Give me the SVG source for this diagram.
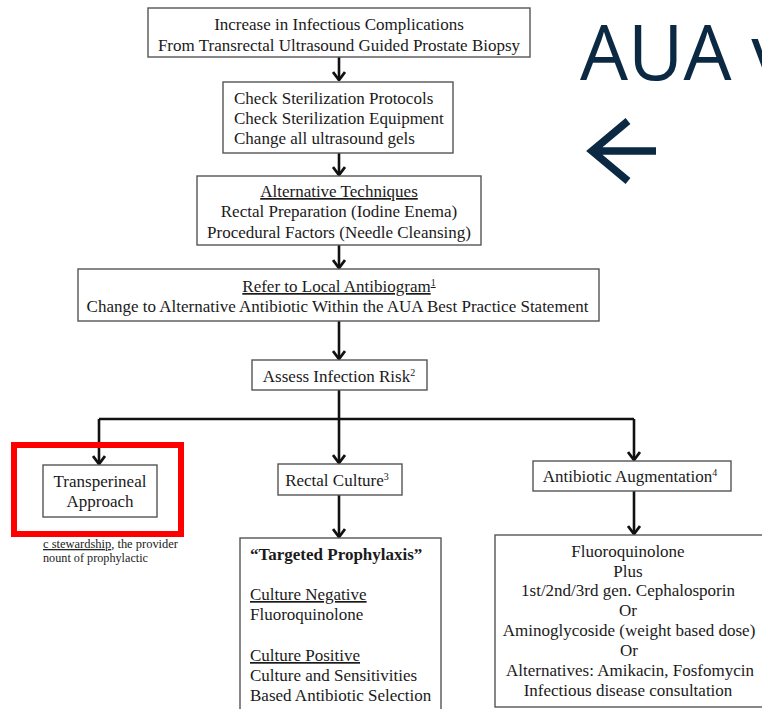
<svg xmlns="http://www.w3.org/2000/svg" width="762" height="709" viewBox="0 0 762 709">
<defs>
<style>
.box{fill:#fff;stroke:#555;stroke-width:1.4}
.t{font-family:"Liberation Serif","Times New Roman",serif;font-size:17px;fill:#1a1a1a}
.c{text-anchor:middle}
.u{text-decoration:underline}
.con{fill:none;stroke:#111;stroke-width:2.6}
.sm{font-family:"Liberation Serif","Times New Roman",serif;font-size:13px;fill:#222}
</style>
<marker id="ah" viewBox="0 0 10 14" refX="9" refY="7" markerWidth="10" markerHeight="14" markerUnits="userSpaceOnUse" orient="auto">
<path d="M1,1 L9,7 L1,13" fill="none" stroke="#111" stroke-width="2.8"/>
</marker>
</defs>
<rect width="762" height="709" fill="#fff"/>

<g id="connectors">
<path class="con" d="M339,57 V80" marker-end="url(#ah)"/>
<path class="con" d="M339,153 V175" marker-end="url(#ah)"/>
<path class="con" d="M339,245 V268" marker-end="url(#ah)"/>
<path class="con" d="M339,321 V359" marker-end="url(#ah)"/>
<path class="con" d="M339,390 V419"/>
<path class="con" d="M99,419 H634"/>
<path class="con" d="M99,419 V464" marker-end="url(#ah)"/>
<path class="con" d="M339,419 V463" marker-end="url(#ah)"/>
<path class="con" d="M634,419 V460" marker-end="url(#ah)"/>
<path class="con" d="M339,495 V537" marker-end="url(#ah)"/>
<path class="con" d="M634,491 V534" marker-end="url(#ah)"/>
</g>

<g id="n1">
<rect class="box" x="148" y="8" width="382" height="49"/>
<text class="t c" x="339" y="30">Increase in Infectious Complications</text>
<text class="t c" x="339" y="51">From Transrectal Ultrasound Guided Prostate Biopsy</text>
</g>

<g id="n2">
<rect class="box" x="223" y="82" width="230" height="71"/>
<text class="t" x="234" y="104">Check Sterilization Protocols</text>
<text class="t" x="234" y="124">Check Sterilization Equipment</text>
<text class="t" x="234" y="144">Change all ultrasound gels</text>
</g>

<g id="n3">
<rect class="box" x="197" y="176" width="284" height="69"/>
<text class="t c u" x="339" y="197">Alternative Techniques</text>
<text class="t c" x="339" y="217">Rectal Preparation (Iodine Enema)</text>
<text class="t c" x="339" y="238">Procedural Factors (Needle Cleansing)</text>
</g>

<g id="n4">
<rect class="box" x="78" y="269" width="521" height="52"/>
<text class="t c" x="339" y="292"><tspan class="u">Refer to Local Antibiogram<tspan font-size="10" dy="-6">1</tspan></tspan></text>
<text class="t c" x="337.5" y="312" font-size="16.7">Change to Alternative Antibiotic Within the AUA Best Practice Statement</text>
</g>

<g id="n5">
<rect class="box" x="252" y="360" width="175" height="30"/>
<text class="t c" x="339" y="382">Assess Infection Risk<tspan font-size="10" dy="-6">2</tspan></text>
</g>

<g id="n6">
<rect class="box" x="43" y="465" width="114" height="52"/>
<text class="t c" x="100" y="487">Transperineal</text>
<text class="t c" x="100" y="507">Approach</text>
</g>

<g id="highlight">
<rect x="14" y="445" width="167" height="89" fill="none" stroke="#ff0000" stroke-width="6"/>
</g>

<g id="fragment">
<text class="sm" x="43" y="548" textLength="135" lengthAdjust="spacingAndGlyphs"><tspan text-decoration="underline">c stewardship</tspan>, the provider</text>
<text class="sm" x="43" y="562" textLength="105" lengthAdjust="spacingAndGlyphs">nount of prophylactic</text>
</g>

<g id="n7">
<rect class="box" x="278" y="464" width="124" height="31"/>
<text class="t c" x="337" y="486">Rectal Culture<tspan font-size="10" dy="-6">3</tspan></text>
</g>

<g id="n8">
<rect class="box" x="240" y="538" width="201" height="175"/>
<text class="t" x="250" y="560" font-weight="bold">“Targeted Prophylaxis”</text>
<text class="t u" x="250" y="600">Culture Negative</text>
<text class="t" x="250" y="620">Fluoroquinolone</text>
<text class="t u" x="250" y="661">Culture Positive</text>
<text class="t" x="250" y="681">Culture and Sensitivities</text>
<text class="t" x="250" y="701">Based Antibiotic Selection</text>
</g>

<g id="n9">
<rect class="box" x="533" y="461" width="198" height="30"/>
<text class="t c" x="630" y="482">Antibiotic Augmentation<tspan font-size="10" dy="-6">4</tspan></text>
</g>

<g id="n10">
<rect class="box" x="495" y="535" width="280" height="172"/>
<text class="t c" x="628" y="557">Fluoroquinolone</text>
<text class="t c" x="628" y="577">Plus</text>
<text class="t c" x="628" y="596">1st/2nd/3rd gen. Cephalosporin</text>
<text class="t c" x="628" y="616">Or</text>
<text class="t c" x="629" y="636">Aminoglycoside (weight based dose)</text>
<text class="t c" x="629" y="656">Or</text>
<text class="t c" x="630" y="676">Alternatives: Amikacin, Fosfomycin</text>
<text class="t c" x="628" y="696">Infectious disease consultation</text>
</g>

<g id="title">
<text x="580" y="80" font-family="'Open Sans','Noto Sans',sans-serif" font-size="76" fill="#0b2942">AUA v</text>
<path d="M656,151 H592 M628,121 L592,151 L628,181" fill="none" stroke="#0b2942" stroke-width="7.5" stroke-linejoin="miter"/>
</g>
</svg>
